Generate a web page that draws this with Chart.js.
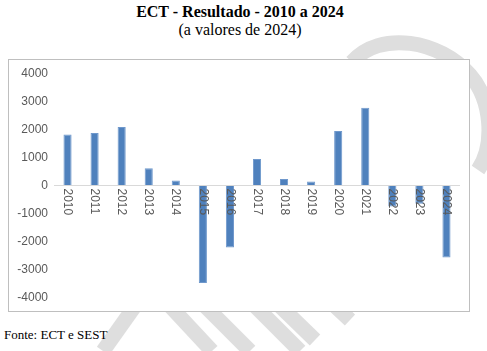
<!DOCTYPE html>
<html>
<head>
<meta charset="utf-8">
<script src="https://cdn.jsdelivr.net/npm/chart.js@4/dist/chart.umd.min.js"></script>
<style>
  html, body { margin: 0; padding: 0; background: #fff; }
  #page { position: relative; width: 487px; height: 351px; overflow: hidden; font-family: "Liberation Serif", serif; }
  #marca { position: absolute; left: 0; top: 0; }
  #titulo { position: absolute; left: 0; top: 3px; width: 480px; text-align: center; color: #000; }
  #titulo .t1 { font-weight: bold; font-size: 16px; line-height: 18px; }
  #titulo .t2 { font-size: 16px; line-height: 18px; }
  #caixa { position: absolute; left: 8px; top: 59px; width: 460px; height: 251px; border: 1px solid #bfbfbf; background: #fff; }
  #fonte { position: absolute; left: 4px; top: 327px; font-size: 13px; color: #000; }
</style>
</head>
<body>
<div id="page">
  <!-- marca d'água ao fundo -->
  <svg id="marca" width="487" height="351">
    <g fill="none" stroke="#dedede" stroke-width="15" stroke-linecap="butt">
      <path d="M 352 62 C 380 30, 440 40, 470 75 C 492 100, 495 145, 478 170" />
      <line x1="135" y1="306" x2="103" y2="351" />
      <line x1="170" y1="306" x2="212" y2="351" />
      <line x1="205" y1="306" x2="250" y2="351" />
      <line x1="255" y1="306" x2="300" y2="351" />
      <line x1="280" y1="306" x2="315" y2="340" />
      <line x1="335" y1="306" x2="350" y2="320" />
    </g>
  </svg>
  <div id="titulo">
    <div class="t1">ECT - Resultado - 2010 a 2024</div>
    <div class="t2">(a valores de 2024)</div>
  </div>
  <div id="caixa"><canvas id="grafico" width="460" height="251"></canvas></div>
  <div id="fonte">Fonte: ECT e SEST</div>
</div>
<script>
  // dados
  const anos = ['2010', '2011', '2012', '2013', '2014', '2015', '2016', '2017',
                '2018', '2019', '2020', '2021', '2022', '2023', '2024'];
  const resultado = [1820, 1870, 2080, 615, 180, -3475, -2210, 945,
                     235, 140, 1940, 2765, -750, -650, -2565];
  const ticksY = [-4000, -3000, -2000, -1000, 0, 1000, 2000, 3000, 4000];

  const COR_BARRA = '#4f81bd';
  const COR_TEXTO = '#595959';
  const FONTE_EIXO = '"Liberation Sans", Arial, sans-serif';

  // rótulos do eixo x, girados e colados na linha do zero
  const rotulosAnos = {
    id: 'rotulosAnos',
    afterDatasetsDraw(chart) {
      const ctx = chart.ctx;
      const x = chart.scales.x;
      const y0 = chart.scales.y.getPixelForValue(0);
      ctx.save();
      ctx.fillStyle = COR_TEXTO;
      ctx.font = '12px ' + FONTE_EIXO;
      ctx.textAlign = 'left';
      ctx.textBaseline = 'middle';
      anos.forEach((ano, i) => {
        ctx.save();
        ctx.translate(x.getPixelForValue(i), y0 + 3);
        ctx.rotate(Math.PI / 2);
        ctx.fillText(ano, 0, 0);
        ctx.restore();
      });
      ctx.restore();
    }
  };

  new Chart(document.getElementById('grafico'), {
    type: 'bar',
    data: {
      labels: anos,
      datasets: [{
        data: resultado,
        backgroundColor: COR_BARRA,
        borderColor: '#6f98cc',
        borderWidth: 1,
        barPercentage: 0.3,
        categoryPercentage: 1
      }]
    },
    options: {
      responsive: false,
      animation: false,
      devicePixelRatio: 1,
      layout: { padding: { top: 12, bottom: 13, left: 0, right: 9 } },
      plugins: { legend: { display: false }, tooltip: { enabled: false } },
      scales: {
        x: { display: false },
        y: {
          min: -4000,
          max: 4000,
          afterFit(scale) { scale.width = 45; },
          afterBuildTicks(scale) { scale.ticks = ticksY.map(v => ({ value: v })); },
          border: { display: false },
          grid: {
            drawTicks: false,
            color: c => (c.tick && c.tick.value === 0) ? '#d9d9d9' : 'rgba(0,0,0,0)'
          },
          ticks: {
            padding: 6,
            color: COR_TEXTO,
            font: { family: FONTE_EIXO, size: 12 },
            callback: v => String(v)
          }
        }
      }
    },
    plugins: [rotulosAnos]
  });
</script>
</body>
</html>
